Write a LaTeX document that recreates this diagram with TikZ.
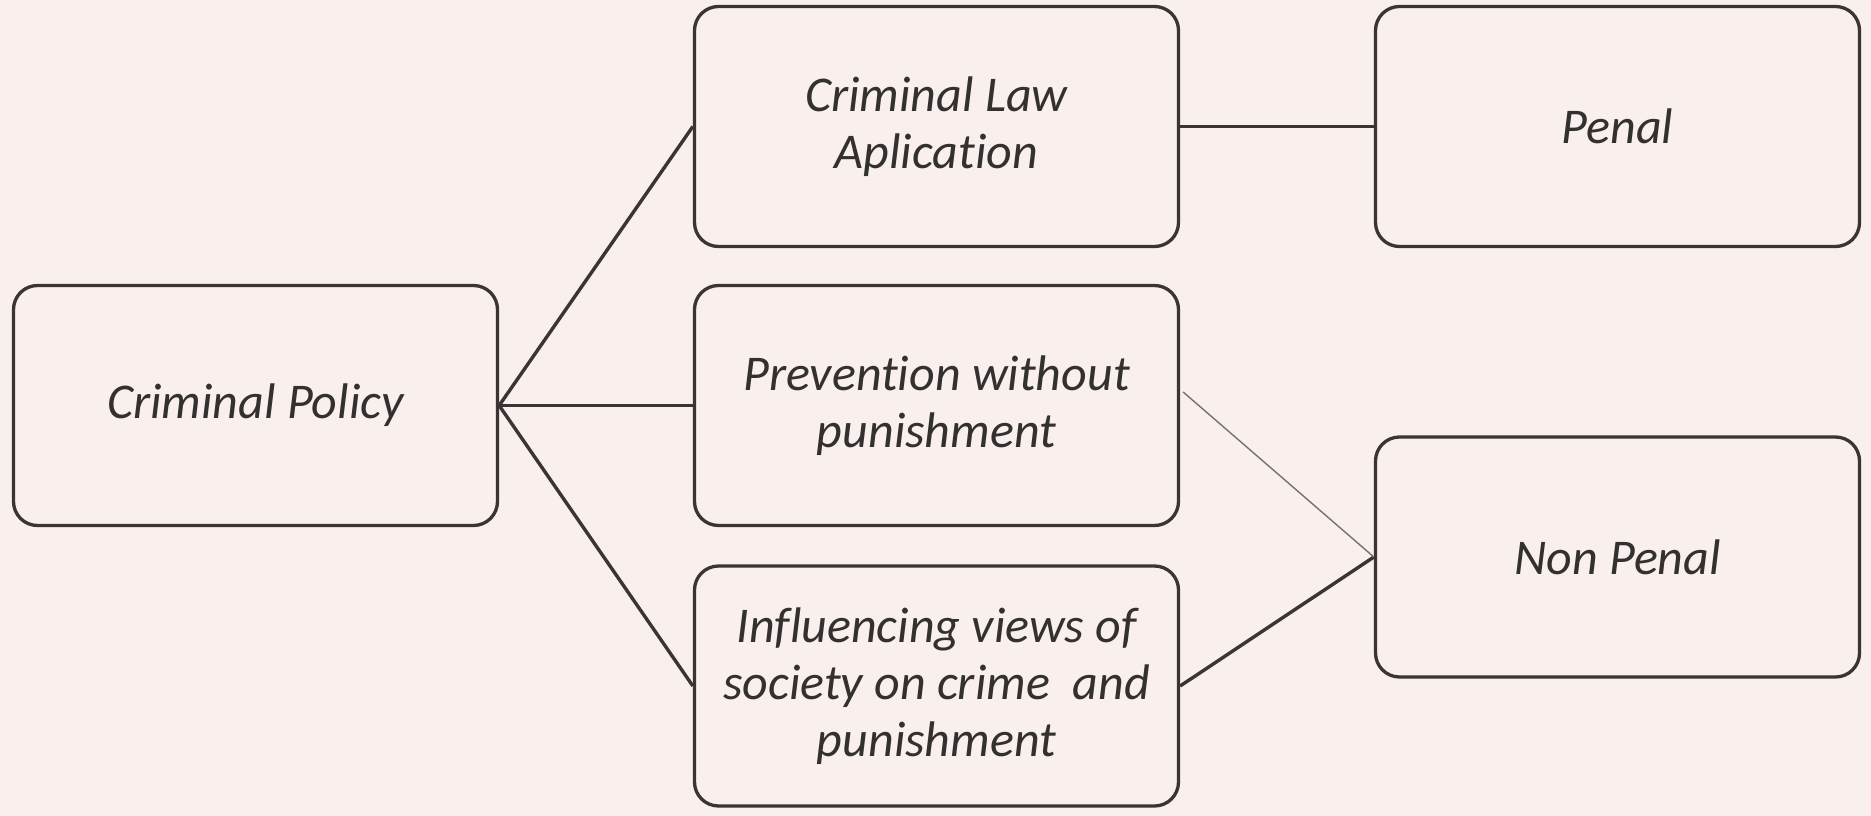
\documentclass[tikz,border=0pt]{standalone}
\usepackage{fontspec}
\usetikzlibrary{calc}
\setmainfont{Carlito}[Ligatures={NoCommon,NoRare,NoContextual}]
\definecolor{bg}{HTML}{F9EFED}
\definecolor{ln}{HTML}{3B3434}
\definecolor{tx}{HTML}{333030}
\begin{document}
\begin{tikzpicture}[x=1pt,y=-1pt,
  box/.style={draw=ln, line width=3.3pt, rounded corners=24pt, minimum width=484pt, minimum height=240pt,
    inner sep=0pt, align=center, text=tx, font=\fontsize{50}{57}\selectfont\itshape},
  conn/.style={draw=ln, line width=3.4pt},
  thinconn/.style={draw=ln!70, line width=1.4pt}]
\fill[bg] (0,0) rectangle (1871,816);
\useasboundingbox (0,0) rectangle (1871,816);
\node[box] (cp) at (255.5,405.5) {\raisebox{-3pt}{Criminal Policy}};
\node[box] (cla) at (936.5,126.5) {Criminal Law\\Aplicat\kern0pt ion};
\node[box] (pen) at (1617.5,126.5) {Penal};
\node[box] (prev) at (936.5,405.5) {Prevent\kern0pt ion without\\punishment};
\node[box] (inf) at (936.5,686) {Influencing views of\\society on crime\ \ and\\punishment};
\node[box] (np) at (1617.5,557) {Non Penal};
\draw[conn] (cp.east) -- (cla.west);
\draw[conn] (cp.east) -- (prev.west);
\draw[conn] (cp.east) -- (inf.west);
\draw[conn] (cla.east) -- (pen.west);
\coordinate (ps) at ($(prev.east)+(3,-13.5)$);
\draw[conn] (inf.east) -- (np.west);
\draw[thinconn] (ps) -- (np.west);
\end{tikzpicture}
\end{document}
